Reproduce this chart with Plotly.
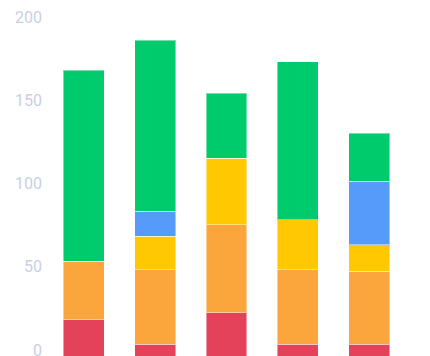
import plotly.graph_objects as go

categories = ["A", "B", "C", "D", "E"]
red = [22, 7, 26, 7, 7]
orange = [35, 45, 53, 45, 44]
yellow = [0, 20, 40, 30, 16]
blue = [0, 15, 0, 0, 38]
green = [115, 103, 39, 95, 29]
tick_vals = [0, 50, 100, 150, 200]

series = [
    ("red", red, "#E3425A"),
    ("orange", orange, "#FBA63D"),
    ("yellow", yellow, "#FFC800"),
    ("blue", blue, "#569BFA"),
    ("green", green, "#00CB6C"),
]

fig = go.Figure()
for name, vals, col in series:
    fig.add_trace(go.Bar(
        x=categories, y=vals, name=name,
        marker=dict(color=col, line=dict(color="rgba(255,255,255,0.45)", width=1)),
        hoverinfo="skip",
    ))

fig.update_layout(
    barmode="stack",
    bargap=0.427,
    width=430, height=356,
    margin=dict(l=48, r=24.5, t=0, b=0),
    paper_bgcolor="white",
    plot_bgcolor="white",
    showlegend=False,
    font=dict(family="Roboto", size=16, color="#C8D0E4"),
)
fig.update_xaxes(showticklabels=False, showgrid=False, zeroline=False, showline=False,
                 ticks="", automargin=False)
fig.update_yaxes(range=[0, 214.1], tickvals=tick_vals, showgrid=False, zeroline=False,
                 showline=False, ticks="", ticklabelstandoff=5, ticklabelshift=-6,
                 ticklabeloverflow="allow", automargin=False)

fig.write_html("out.html")
